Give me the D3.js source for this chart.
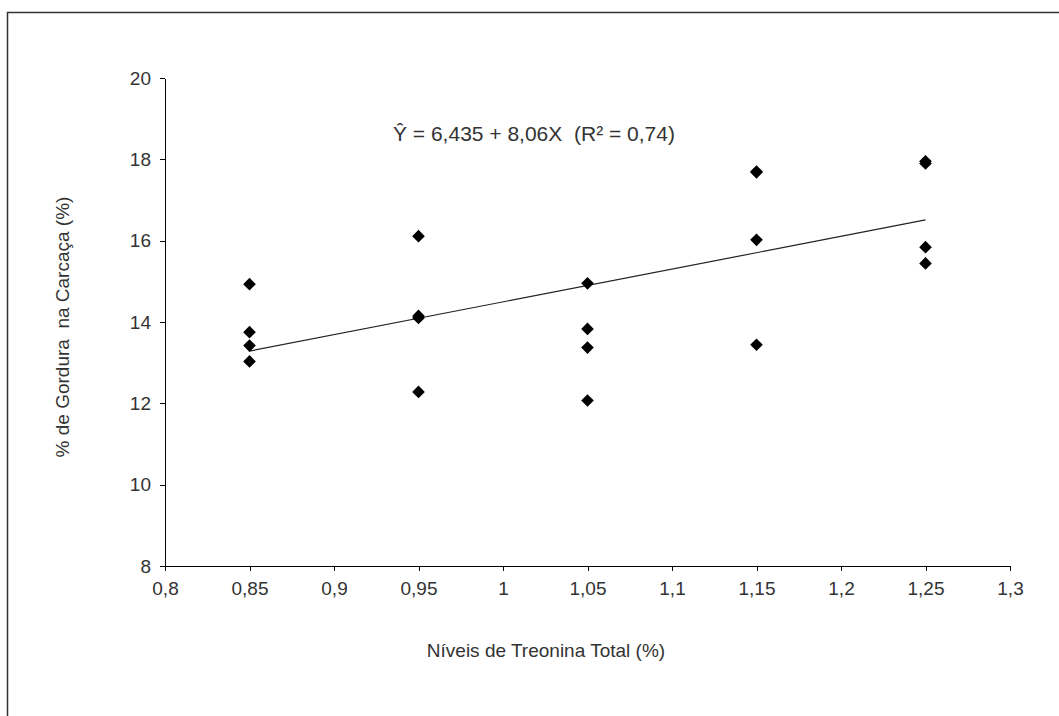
<!DOCTYPE html>
<meta charset="utf-8">
<head>
<style>
body { margin: 0; background: #fff; }
.axis path, .axis line { stroke: #000; stroke-width: 1px; shape-rendering: crispEdges; }
.axis text { font-family: "Liberation Sans", Arial, sans-serif; font-size: 19px; fill: #333; }
.label { font-family: "Liberation Sans", Arial, sans-serif; font-size: 19px; fill: #333; }
.trend { fill: none; stroke: #222; stroke-width: 1.2px; }
</style>
</head>
<body>
<script src="https://d3js.org/d3.v7.min.js"></script>
<script>

// data
var levels = [0.85, 0.95, 1.05, 1.15, 1.25];
var fat085 = [14.93, 13.75, 13.42, 13.03];
var fat095 = [16.11, 14.15, 14.10, 12.28];
var fat105 = [14.95, 13.83, 13.37, 12.07];
var fat115 = [17.70, 17.68, 16.02, 13.44];
var fat125 = [17.95, 17.90, 15.84, 15.44];
var xTicks = [0.8, 0.85, 0.9, 0.95, 1, 1.05, 1.1, 1.15, 1.2, 1.25, 1.3];
var yTicks = [8, 10, 12, 14, 16, 18, 20];
var intercept = 6.435, slope = 8.06;

var series = [fat085, fat095, fat105, fat115, fat125];
var points = [];
levels.forEach(function(l, i) {
  series[i].forEach(function(v) { points.push({x: l, y: v}); });
});

var W = 1059, H = 716;
var margin = {top: 78, left: 165, right: 49, bottom: 150};
var width = W - margin.left - margin.right,
    height = H - margin.top - margin.bottom;

var svg = d3.select("body").append("svg")
    .attr("width", W)
    .attr("height", H);

// outer frame (only top and left edges show)
svg.append("path")
    .attr("d", "M7.5," + H + "V12.5H" + W)
    .attr("fill", "none")
    .attr("stroke", "#333")
    .attr("stroke-width", 1.5);

var g = svg.append("g")
    .attr("transform", "translate(" + margin.left + "," + margin.top + ")");

var x = d3.scaleLinear().domain([0.8, 1.3]).range([0, width]);
var y = d3.scaleLinear().domain([8, 20]).range([height, 0]);

var fmt = function(d) { return String(d).replace(".", ","); };

g.append("g")
    .attr("class", "axis")
    .attr("transform", "translate(0," + height + ")")
    .call(d3.axisBottom(x).tickValues(xTicks).tickFormat(fmt).tickSizeOuter(0).tickSizeInner(5).tickPadding(11));

g.append("g")
    .attr("class", "axis")
    .call(d3.axisLeft(y).tickValues(yTicks).tickFormat(fmt).tickSizeOuter(0).tickSizeInner(5).tickPadding(9));

// regression line
var trend = d3.line()
    .x(function(d) { return x(d); })
    .y(function(d) { return y(intercept + slope * d); });

g.append("path")
    .datum([levels[0], levels[levels.length - 1]])
    .attr("class", "trend")
    .attr("d", trend);

// diamonds
var diamond = d3.symbol().type(d3.symbolSquare).size(80);
g.selectAll(".pt")
    .data(points)
    .enter().append("path")
    .attr("class", "pt")
    .attr("d", diamond)
    .attr("fill", "#000")
    .attr("transform", function(d) {
      return "translate(" + x(d.x) + "," + y(d.y) + ") rotate(45)";
    });

// equation
svg.append("text")
    .attr("class", "label")
    .attr("x", 393)
    .attr("y", 141)
    .style("font-size", "21px")
    .style("white-space", "pre")
    .text("Ŷ = 6,435 + 8,06X  (R² = 0,74)");

// axis titles
svg.append("text")
    .attr("class", "label")
    .attr("x", 546)
    .attr("y", 657)
    .attr("text-anchor", "middle")
    .text("Níveis de Treonina Total (%)");

svg.append("text")
    .attr("class", "label")
    .attr("transform", "translate(69,327) rotate(-90)")
    .attr("text-anchor", "middle")
    .style("white-space", "pre")
    .text("% de Gordura  na Carcaça (%)");

</script>
</body>
